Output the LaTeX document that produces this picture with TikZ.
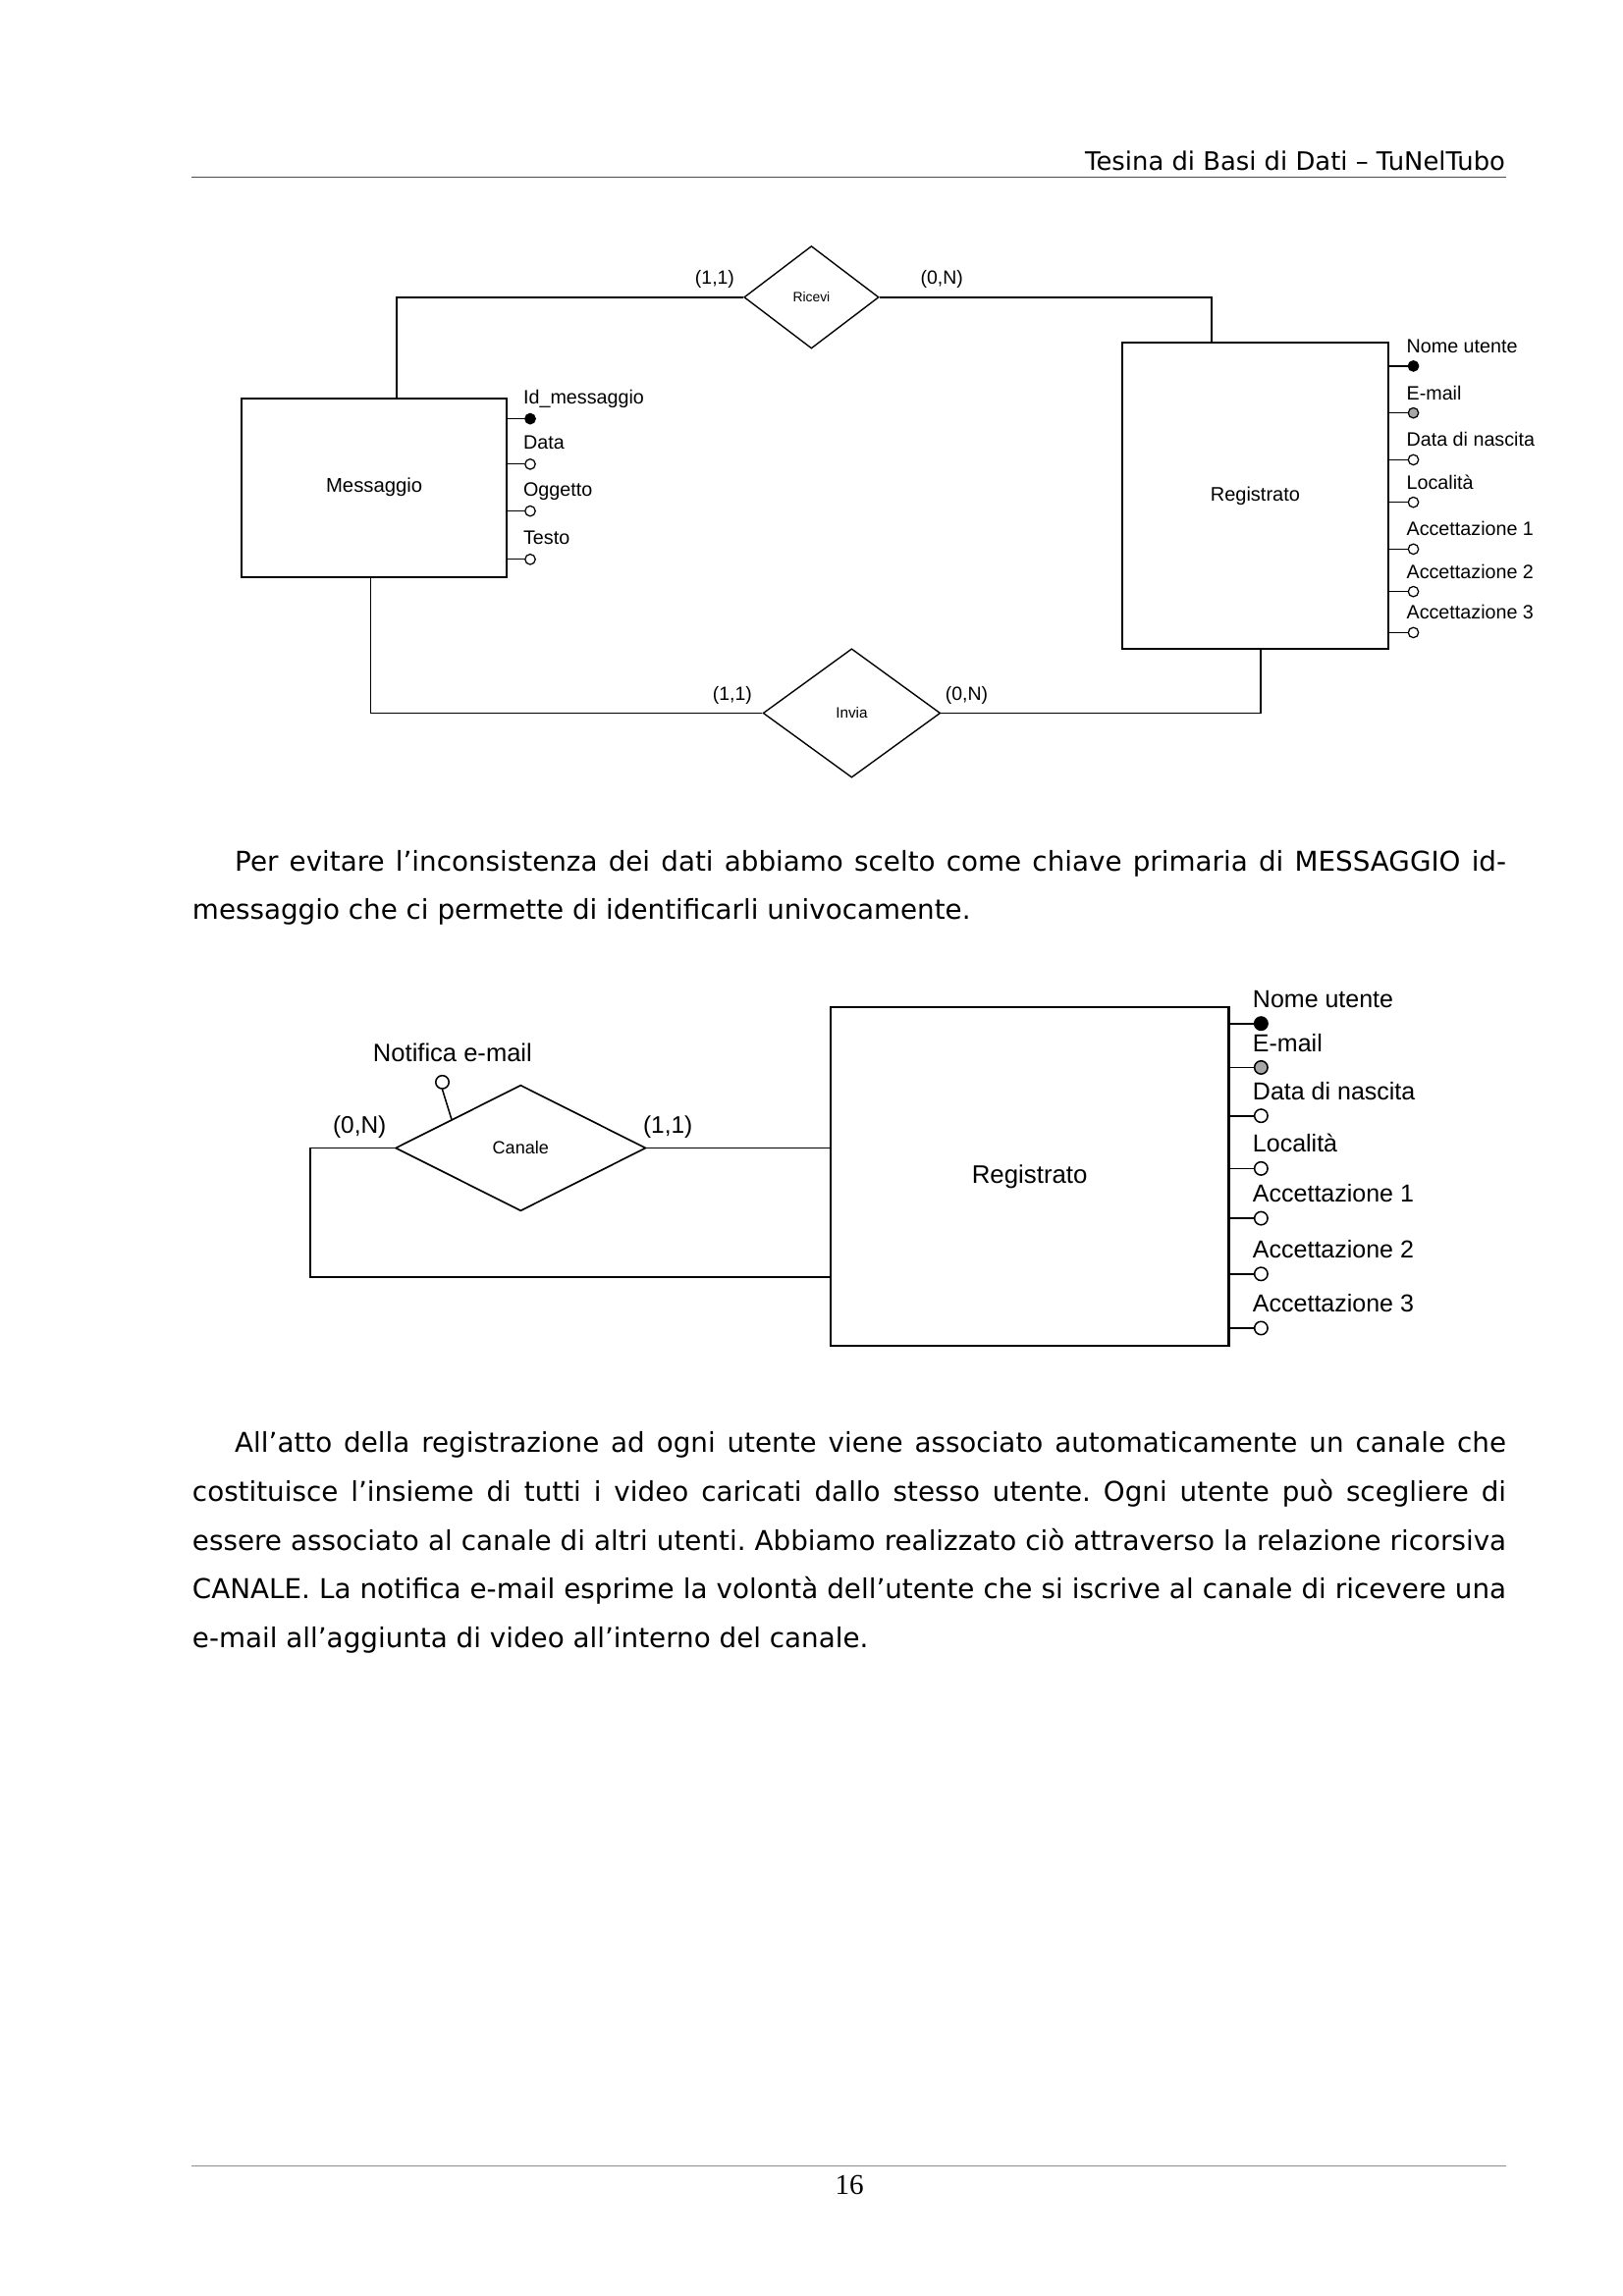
\documentclass[tikz,border=0pt]{standalone}
\usepackage{fontspec}
\setmainfont{DejaVu Sans}
\newfontfamily\diag{Liberation Sans}
\newfontfamily\serifnum{Liberation Serif}
\usetikzlibrary{shapes.geometric}
\frenchspacing
\begin{document}
\begin{tikzpicture}[x=0.537pt,y=-0.537pt,
  ent/.style={draw, line width=0.75pt, inner sep=0pt},
  rel/.style={diamond, draw, line width=0.5pt, inner sep=0pt},
  conn/.style={line width=0.65pt},
  attA/.style={circle, draw, line width=0.45pt, inner sep=0pt, minimum size=7*0.537pt},
  attB/.style={circle, draw, line width=0.55pt, inner sep=0pt, minimum size=9*0.537pt},
  labA/.style={font=\diag\fontsize{7.1}{8}\selectfont, inner sep=0pt, anchor=base west},
  labB/.style={font=\diag\fontsize{9}{10}\selectfont, inner sep=0pt, anchor=base west},
  card/.style={font=\diag\fontsize{7}{8}\selectfont, inner sep=0pt},
  cardB/.style={font=\diag\fontsize{8.8}{10}\selectfont, inner sep=0pt},
  body/.style={font=\fontsize{10}{12}\selectfont, inner sep=0pt, anchor=base west},
  rule/.style={line width=0.4pt, draw=black!70}
]
\fill[white] (0,0) rectangle (1108,1568);
\useasboundingbox (0,0) rectangle (1108,1568);

% header and footer
\node[font=\fontsize{9.3}{11}\selectfont, inner sep=0pt, anchor=base east] (hdr) at (1028,116) {Tesina di Basi di Dati – TuNelTubo};
\coordinate (h1) at (131,121); \coordinate (h2) at (1028,121);
\draw[rule] (h1) -- (h2);
\coordinate (f1) at (131,1479); \coordinate (f2) at (1028,1479);
\draw[line width=0.4pt, draw=black!45] (f1) -- (f2);
\node[font=\serifnum\fontsize{10.5}{12}\selectfont, inner sep=0pt] (pg) at (580,1492) {16};

% ===== Diagram 1 =====
\node[ent, minimum width=181*0.537pt, minimum height=122*0.537pt, font=\diag\fontsize{7.3}{8}\selectfont] (msg) at (255.5,333) {Messaggio};
\node[ent, minimum width=182*0.537pt, minimum height=209*0.537pt, font=\diag\fontsize{7.2}{8}\selectfont] (reg1) at (857,338.5) {Registrato};
\node[rel, minimum width=92*0.537pt, minimum height=70*0.537pt, font=\diag\fontsize{5}{6}\selectfont] (ric) at (554,203) {Ricevi};
\node[rel, minimum width=121*0.537pt, minimum height=88*0.537pt, font=\diag\fontsize{5.5}{6}\selectfont] (inv) at (581.5,487) {Invia};

\draw[conn] (271,0 |- msg.north) |- (ric.west);
\draw[conn] (ric.east) -| (827,0 |- reg1.north);
\draw[conn] (253,0 |- msg.south) |- (inv.west);
\draw[conn] (inv.east) -| (861,0 |- reg1.south);

\node[card] (c1) at (488,191) {(1,1)};
\node[card] (c2) at (643,191) {(0,N)};
\node[card] (c3) at (500,475) {(1,1)};
\node[card] (c4) at (660,475) {(0,N)};

\foreach \n/\y/\f/\t in {m1/286/black/Id\_messaggio, m2/317/white/Data, m3/349/white/Oggetto, m4/382/white/Testo}{
  \node[attA, fill=\f] (\n) at (362,\y) {};
  \draw[line width=0.45pt] (msg.east |- \n) -- (\n.west);
  \node[labA] (\n t) at (357,{\y-10}) {\t};
}
\foreach \n/\y/\f/\t in {r1/250/black/Nome utente, r2/282/black!35/E-mail, r3/314/white/Data di nascita, r4/343/white/Località, r5/375/white/Accettazione 1, r6/404/white/Accettazione 2, r7/432/white/Accettazione 3}{
  \node[attA, fill=\f] (\n) at (965,\y) {};
  \draw[line width=0.45pt] (reg1.east |- \n) -- (\n.west);
  \node[labA] (\n t) at (960,{\y-9}) {\t};
}

% paragraph 1
\node[body] (p1a) at (160,595) {\makebox[466.1pt][s]{Per evitare l’inconsistenza dei dati abbiamo scelto come chiave primaria di MESSAGGIO id-}};
\node[body] (p1b) at (131,628) {messaggio che ci permette di identificarli univocamente.};

% ===== Diagram 2 =====
\node[ent, line width=0.85pt, minimum width=272*0.537pt, minimum height=231*0.537pt, font=\diag\fontsize{9.3}{10}\selectfont] (reg2) at (703,803.5) {Registrato};
\node[rel, line width=0.6pt, minimum width=171*0.537pt, minimum height=86*0.537pt, font=\diag\fontsize{6.5}{7}\selectfont] (can) at (355.5,784) {Canale};

\draw[conn, line width=0.7pt] (can.east) -- (reg2.west |- can.east);
\coordinate (lp) at (212,784);
\draw[conn, line width=0.7pt] (can.west) -- (lp) |- (reg2.west |- 0,872);

\node[cardB] (c5) at (245.5,770) {(0,N)};
\node[cardB] (c6) at (456,770) {(1,1)};

\node[attB, fill=white] (nm) at (302,739) {};
\coordinate (nme) at (308.5,765);
\draw[line width=0.55pt] (nm.south) -- (nme);
\node[font=\diag\fontsize{9.2}{10}\selectfont, inner sep=0pt] (nmt) at (309,719) {Notifica e-mail};

\foreach \n/\y/\f/\t in {s1/699/black/Nome utente, s2/729/black!35/E-mail, s3/762/white/Data di nascita, s4/798/white/Località, s5/832/white/Accettazione 1, s6/870/white/Accettazione 2, s7/907/white/Accettazione 3}{
  \node[attB, fill=\f] (\n) at (861,\y) {};
  \draw[line width=0.6pt] (reg2.east |- \n) -- (\n.west);
  \node[labB] (\n t) at (855,{\y-11}) {\t};
}

% paragraph 2
\node[body] (p2a) at (160,992) {\makebox[466.1pt][s]{All’atto della registrazione ad ogni utente viene associato automaticamente un canale che}};
\node[body] (p2b) at (131,1025) {\makebox[481.7pt][s]{costituisce l’insieme di tutti i video caricati dallo stesso utente. Ogni utente può scegliere di}};
\node[body] (p2c) at (131,1059) {\makebox[481.7pt][s]{essere associato al canale di altri utenti. Abbiamo realizzato ciò attraverso la relazione ricorsiva}};
\node[body] (p2d) at (131,1092) {\makebox[481.7pt][s]{CANALE. La notifica e-mail esprime la volontà dell’utente che si iscrive al canale di ricevere una}};
\node[body] (p2e) at (131,1125) {e-mail all’aggiunta di video all’interno del canale.};
\end{tikzpicture}
\end{document}
